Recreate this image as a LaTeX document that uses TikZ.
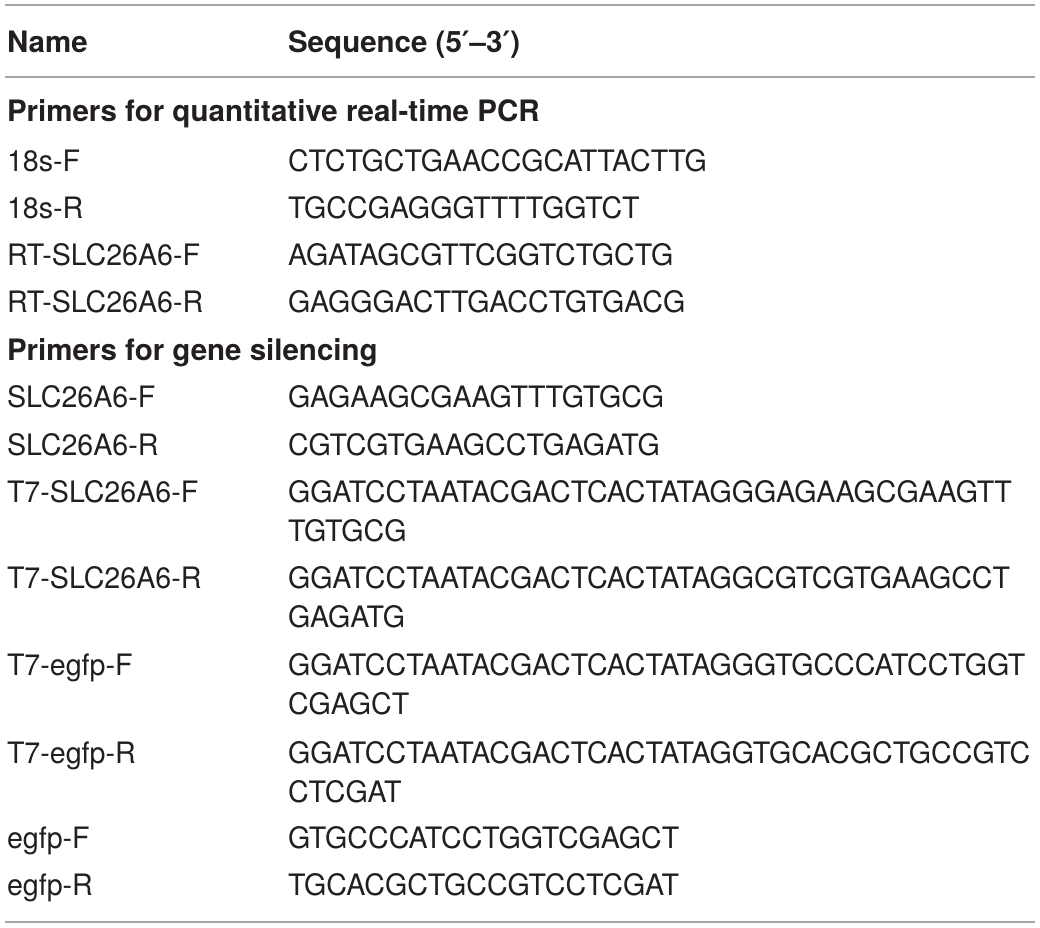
\documentclass[tikz,border=0pt]{standalone}
\usepackage{fontspec}
\setmainfont{TeX Gyre Heros}[FakeStretch=0.97,BoldFeatures={FakeStretch=1.0}]
\newfontfamily\primefont{DejaVu Sans}
\newcommand{\pr}{{\primefont\bfseries ′}}
\begin{document}
\begin{tikzpicture}[x=1pt,y=-1pt,
  cell/.style={anchor=base west,inner sep=0pt,outer sep=0pt,text=txt,font=\fontsize{29.5}{36}\selectfont},
  head/.style={cell,font=\fontsize{29.5}{36}\selectfont\bfseries},
  rule/.style={draw=rulegray,line width=1.6pt}]
\definecolor{txt}{HTML}{231F20}
\definecolor{rulegray}{HTML}{A6A6A6}
\useasboundingbox (0,0) rectangle (1040,927);
% rules
\coordinate (r1a) at (5,5);   \coordinate (r1b) at (1035,5);
\coordinate (r2a) at (5,77);  \coordinate (r2b) at (1035,77);
\coordinate (r3a) at (5,922); \coordinate (r3b) at (1035,922);
\draw[rule] (r1a) -- (r1b);
\draw[rule] (r2a) -- (r2b);
\draw[rule] (r3a) -- (r3b);
% header
\node[head] (hname) at (7,52) {Name};
\node[head] (hseq) at (288,52) {Sequence (5\pr–3\pr)};
% section 1
\node[head] (s1) at (7,121) {Primers for quantitative real-time PCR};
\node[cell] (n1) at (7,171.5) {18s-F};
\node[cell] (q1) at (288,171.5) {CTCTGCTGAACCGCATTACTTG};
\node[cell] (n2) at (7,218) {18s-R};
\node[cell] (q2) at (288,218) {TGCCGAGGGTTTTGGTCT};
\node[cell] (n3) at (7,265) {RT-SLC26A6-F};
\node[cell] (q3) at (288,265) {AGATAGCGTTCGGTCTGCTG};
\node[cell] (n4) at (7,312) {RT-SLC26A6-R};
\node[cell] (q4) at (288,312) {GAGGGACTTGACCTGTGACG};
% section 2
\node[head] (s2) at (7,360) {Primers for gene silencing};
\node[cell] (n5) at (7,407) {SLC26A6-F};
\node[cell] (q5) at (288,407) {GAGAAGCGAAGTTTGTGCG};
\node[cell] (n6) at (7,455) {SLC26A6-R};
\node[cell] (q6) at (288,455) {CGTCGTGAAGCCTGAGATG};
\node[cell] (n7) at (7,502) {T7-SLC26A6-F};
\node[cell] (q7) at (288,502) {GGATCCTAATACGACTCACTATAGGGAGAAGCGAAGTT};
\node[cell] (q7b) at (288,541) {TGTGCG};
\node[cell] (n8) at (7,588) {T7-SLC26A6-R};
\node[cell] (q8) at (288,588) {GGATCCTAATACGACTCACTATAGGCGTCGTGAAGCCT};
\node[cell] (q8b) at (288,627) {GAGATG};
\node[cell] (n9) at (7,675) {T7-egfp-F};
\node[cell] (q9) at (288,675) {GGATCCTAATACGACTCACTATAGGGTGCCCATCCTGGT};
\node[cell] (q9b) at (288,714) {CGAGCT};
\node[cell] (n10) at (7,763) {T7-egfp-R};
\node[cell] (q10) at (288,763) {GGATCCTAATACGACTCACTATAGGTGCACGCTGCCGTC};
\node[cell] (q10b) at (288,802) {CTCGAT};
\node[cell] (n11) at (7,848) {egfp-F};
\node[cell] (q11) at (288,848) {GTGCCCATCCTGGTCGAGCT};
\node[cell] (n12) at (7,895) {egfp-R};
\node[cell] (q12) at (288,895) {TGCACGCTGCCGTCCTCGAT};
\end{tikzpicture}
\end{document}
